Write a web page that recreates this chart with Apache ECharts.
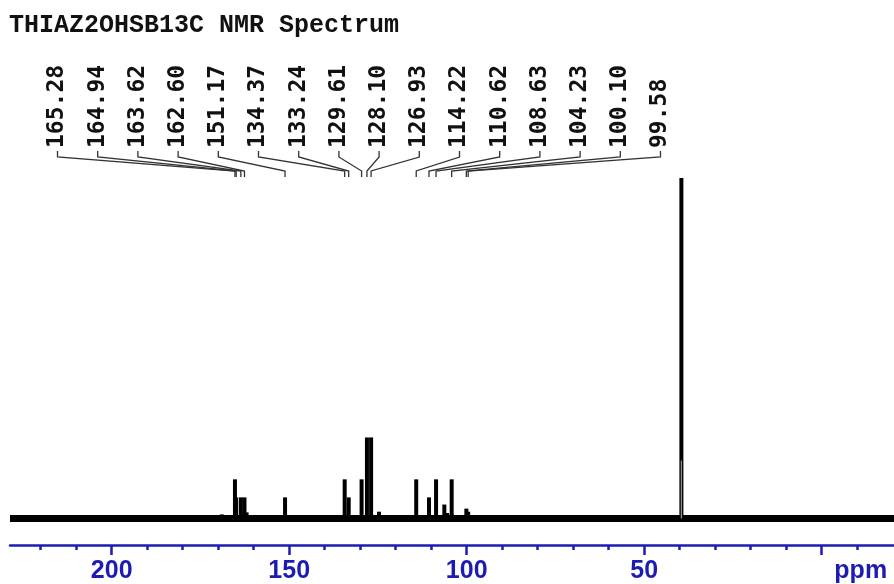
<!DOCTYPE html>
<html>
<head>
<meta charset="utf-8">
<script src="https://cdn.jsdelivr.net/npm/echarts@6/dist/echarts.min.js"></script>
<style>html,body{margin:0;padding:0;background:#fff}#c{width:894px;height:584px}</style>
</head>
<body>
<div id="c"></div>
<script>
// ---- data ----
const titleText = 'THIAZ2OHSB13C NMR Spectrum';
const peakPpm    = [165.28, 164.94, 163.62, 162.60, 151.17, 134.37, 133.24, 129.61, 128.10, 126.93, 114.22, 110.62, 108.63, 104.23, 100.10, 99.58];
const peakHeight = [11.5,   6.2,    6.2,    6.2,    6.2,    11.5,   6.2,    11.5,   23.8,   23.8,   11.5,   6.2,    11.5,   11.5,   2.9,    2.0];
const smallPpm    = [169.0, 162.0, 124.7, 106.3, 105.5];
const smallHeight = [1.2,   1.8,   2.0,   4.1,   1.6];
const solventPpm    = [39.52];
const solventHeight = [100];
const solventCore   = [17];
const majorTicks = [200, 150, 100, 50, 0];
const minorTicks = [220, 210, 190, 180, 170, 160, 140, 130, 120, 110, 90, 80, 70, 60, 40, 30, 20, 10, -10];
const tickLabels = [200, 150, 100, 50];
const unitLabel = 'ppm';
const unitLabelAt = -11;

// ---- layout ----
const X_MIN = -20.37, X_MAX = 228.65;
const Y_MIN = -7.78, Y_MAX = 108.2;
const LABEL_X0 = 57.5, LABEL_DX = 40.2;
const BLUE = '#1c1cb4';

const allPeaks = [];
peakPpm.forEach((p, i) => allPeaks.push([p, peakHeight[i]]));
smallPpm.forEach((p, i) => allPeaks.push([p, smallHeight[i]]));
solventPpm.forEach((p, i) => allPeaks.push([p, solventHeight[i]]));

const chart = echarts.init(document.getElementById('c'), null, {renderer: 'canvas'});
chart.setOption({
  animation: false,
  backgroundColor: '#fff',
  title: {
    text: titleText, left: 4, top: 8,
    textStyle: {fontFamily: 'Liberation Mono', fontWeight: 'bold', fontSize: 25, color: '#111'}
  },
  grid: {left: 10, right: 0, top: 150, bottom: 39},
  xAxis: [{
    type: 'value', inverse: true, min: X_MIN, max: X_MAX, position: 'bottom',
    splitLine: {show: false},
    axisLine: {show: true, onZero: false, lineStyle: {color: BLUE, width: 2.5}},
    axisTick: {show: true, customValues: majorTicks, length: 10, lineStyle: {color: BLUE, width: 2.5}},
    axisLabel: {
      show: true, customValues: tickLabels.concat([unitLabelAt]), margin: 14,
      formatter: v => (v === unitLabelAt ? unitLabel : String(v)),
      color: BLUE, fontFamily: 'Liberation Sans', fontWeight: 'bold', fontSize: 25
    }
  }, {
    type: 'value', inverse: true, min: X_MIN, max: X_MAX, position: 'bottom', gridIndex: 0,
    splitLine: {show: false},
    axisLine: {show: false, onZero: false},
    axisTick: {show: true, customValues: minorTicks, length: 5, lineStyle: {color: BLUE, width: 2.5}},
    axisLabel: {show: false}
  }],
  yAxis: {type: 'value', min: Y_MIN, max: Y_MAX, show: false, splitLine: {show: false}},
  series: [
    {
      type: 'line', xAxisIndex: 0, symbol: 'none', silent: true,
      data: [[X_MAX, 0], [X_MIN, 0]],
      lineStyle: {color: '#000', width: 7}
    },
    {
      type: 'bar', xAxisIndex: 0, barWidth: 4, silent: true,
      data: allPeaks,
      itemStyle: {color: '#000'}
    },
    {
      type: 'line', xAxisIndex: 0, symbol: 'none', silent: true,
      data: [[solventPpm[0], 0], [solventPpm[0], solventCore[0]]],
      lineStyle: {color: '#8a8a8a', width: 1.3}
    },
    {
      type: 'custom', xAxisIndex: 0, silent: true, clip: false,
      data: peakPpm.map((p, i) => [p, i]),
      renderItem: function (params, api) {
        const ppm = api.value(0);
        const idx = api.value(1);
        const xp = api.coord([ppm, 0])[0];
        const xl = LABEL_X0 + LABEL_DX * idx;
        return {
          type: 'group',
          children: [
            {
              type: 'polyline',
              shape: {points: [[xl, 151], [xl, 157], [xp, 171], [xp, 177]]},
              style: {stroke: '#333', lineWidth: 1.3, fill: null}
            },
            {
              type: 'text', x: xl, y: 148, rotation: Math.PI / 2,
              style: {
                text: peakPpm[idx].toFixed(2), fill: '#111',
                font: 'bold 23px "DejaVu Sans Mono"',
                align: 'left', verticalAlign: 'middle'
              }
            }
          ]
        };
      }
    }
  ]
});
</script>
</body>
</html>
